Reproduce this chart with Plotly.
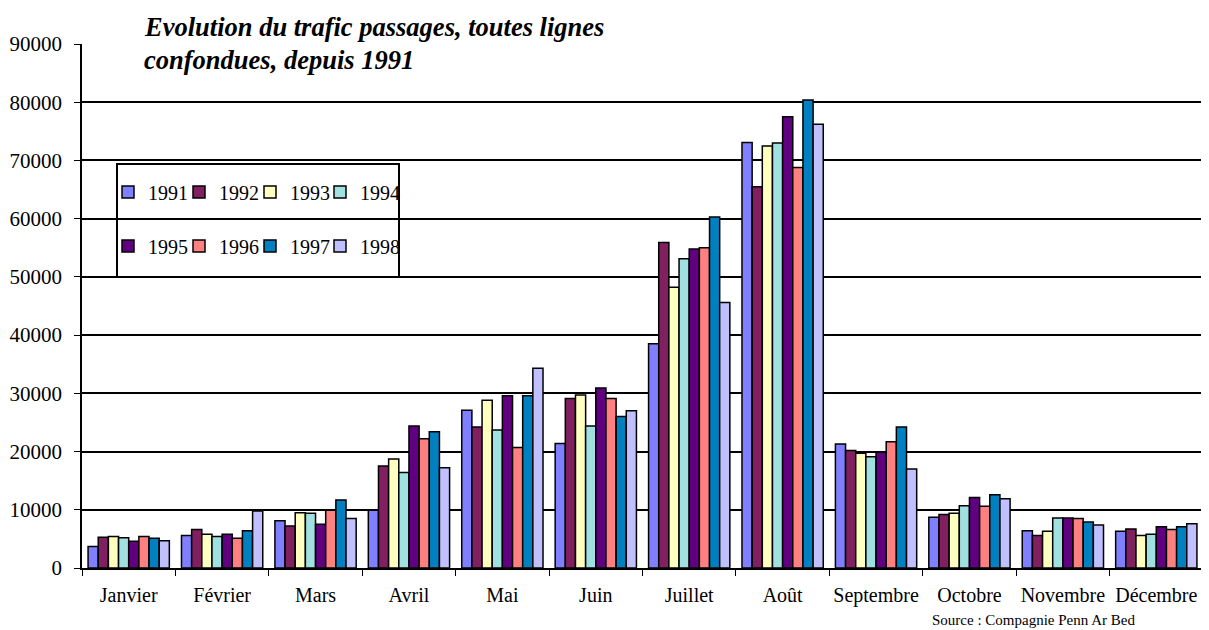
import plotly.graph_objects as go

mois = ['Janvier', 'Février', 'Mars', 'Avril', 'Mai', 'Juin', 'Juillet', 'Août',
        'Septembre', 'Octobre', 'Novembre', 'Décembre']

v1991 = [3700, 5600, 8100, 9900, 27100, 21400, 38500, 73100, 21300, 8700, 6400, 6300]
v1992 = [5300, 6600, 7200, 17500, 24200, 29100, 55900, 65500, 20200, 9200, 5600, 6700]
v1993 = [5400, 5800, 9500, 18700, 28800, 29700, 48200, 72500, 19700, 9400, 6300, 5600]
v1994 = [5200, 5400, 9400, 16400, 23700, 24400, 53100, 73000, 19100, 10700, 8600, 5800]
v1995 = [4600, 5800, 7500, 24400, 29600, 30900, 54800, 77500, 19900, 12100, 8600, 7100]
v1996 = [5400, 5100, 9900, 22200, 20700, 29100, 55000, 68800, 21700, 10600, 8500, 6600]
v1997 = [5100, 6400, 11700, 23400, 29600, 26000, 60300, 80400, 24200, 12600, 7900, 7100]
v1998 = [4700, 9800, 8500, 17200, 34300, 27000, 45600, 76200, 17000, 11900, 7400, 7600]

annees = ['1991', '1992', '1993', '1994', '1995', '1996', '1997', '1998']
series = [v1991, v1992, v1993, v1994, v1995, v1996, v1997, v1998]
couleurs = ['#8080FF', '#802060', '#FFFFC0', '#A0E0E0', '#600080', '#FF8080', '#0080C0', '#C0C0FF']

police = 'Liberation Serif'

# la page ajoute une marge de 8 px : le graphique fait donc 1201 x 622
# zone de tracé (coordonnées de la page) : x 82 -> 1203, y 44 -> 568
def px(x):
    return (x - 82) / 1121

def py(y):
    return 1 - (y - 44) / 524

fig = go.Figure()
legendes = {}
colonnes = [108, 179, 250, 320]
lignes = [192, 246]
for i, (an, vals) in enumerate(zip(annees, series)):
    nom = 'legend' if i == 0 else 'legend%d' % (i + 1)
    fig.add_trace(go.Bar(x=mois, y=vals, name=an,
                         marker=dict(color=couleurs[i], line=dict(color='black', width=1.5)),
                         legend=nom))
    legendes[nom] = dict(orientation='h', bgcolor='rgba(0,0,0,0)', borderwidth=0,
                         font=dict(family=police, size=20, color='black'),
                         xref='paper', yref='paper', xanchor='left', yanchor='middle',
                         x=px(colonnes[i % 4]), y=py(lignes[i // 4]))

fig.update_layout(
    width=1201, height=622,
    margin=dict(l=74, r=6, t=36, b=62),
    paper_bgcolor='white', plot_bgcolor='white',
    barmode='group', bargap=0.13, bargroupgap=0,
    font=dict(family=police, size=20, color='black'),
    showlegend=True,
    xaxis=dict(showline=True, linecolor='black', linewidth=1.5, automargin=False,
               ticks='outside', tickson='boundaries', ticklen=6, tickcolor='black',
               ticklabelstandoff=8, tickangle=0,
               tickfont=dict(family=police, size=20, color='black')),
    yaxis=dict(range=[0, 90000], dtick=10000, tickformat='d', automargin=False,
               showline=True, linecolor='black', linewidth=1.5,
               showgrid=True, gridcolor='black', gridwidth=1.5,
               ticks='outside', ticklen=6, tickcolor='black', zeroline=False,
               ticklabelstandoff=8,
               tickfont=dict(family=police, size=21, color='black')),
    **legendes
)

# cadre de la légende
fig.add_shape(type='rect', xref='paper', yref='paper',
              x0=px(117), x1=px(399), y0=py(277), y1=py(164),
              line=dict(color='black', width=2), fillcolor='white', layer='below')

fig.add_annotation(text='<b><i>Evolution du trafic passages, toutes lignes</i></b>',
                   xref='paper', yref='paper', x=px(142), y=py(27),
                   xanchor='left', yanchor='middle', showarrow=False,
                   font=dict(family=police, size=26.5, color='black'))
fig.add_annotation(text='<b><i>confondues, depuis 1991</i></b>',
                   xref='paper', yref='paper', x=px(142), y=py(60),
                   xanchor='left', yanchor='middle', showarrow=False,
                   font=dict(family=police, size=26.5, color='black'))
fig.add_annotation(text='Source : Compagnie Penn Ar Bed',
                   xref='paper', yref='paper', x=px(1033), y=py(620),
                   xanchor='center', yanchor='middle', showarrow=False,
                   font=dict(family=police, size=15, color='black'))

fig.write_html("out.html")
